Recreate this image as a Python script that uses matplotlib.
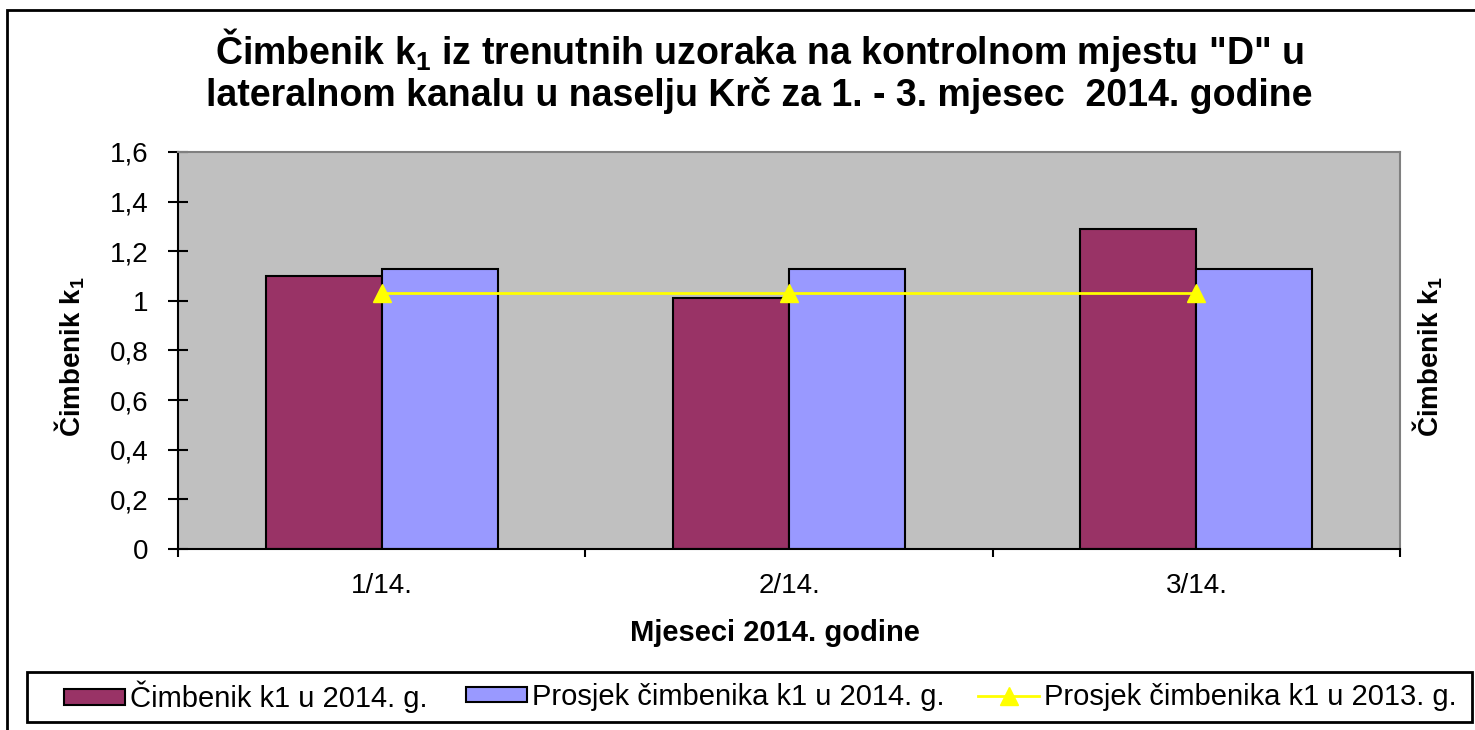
import matplotlib
matplotlib.use("Agg")
import matplotlib.pyplot as plt
from matplotlib.patches import Rectangle
from matplotlib.lines import Line2D
import numpy as np

plt.rcParams['font.family'] = ['Liberation Sans', 'DejaVu Sans']
plt.rcParams['mathtext.fontset'] = 'custom'
plt.rcParams['mathtext.rm'] = 'Liberation Sans'
plt.rcParams['mathtext.bf'] = 'Liberation Sans:bold'

categories = ["1/14.", "2/14.", "3/14."]
k1_2014 = [1.10, 1.01, 1.29]
avg_2014 = [1.13, 1.13, 1.13]
avg_2013 = [1.03, 1.03, 1.03]
yticks = [0, 0.2, 0.4, 0.6, 0.8, 1.0, 1.2, 1.4, 1.6]
ytick_labels = ["0", "0,2", "0,4", "0,6", "0,8", "1", "1,2", "1,4", "1,6"]

title = ("Čimbenik k$_\\mathbf{1}$ iz trenutnih uzoraka na kontrolnom mjestu \"D\" u\n"
         "lateralnom kanalu u naselju Krč za 1. - 3. mjesec  2014. godine")
lab1 = "Čimbenik k1 u 2014. g."
lab2 = "Prosjek čimbenika k1 u 2014. g."
lab3 = "Prosjek čimbenika k1 u 2013. g."

c_red = "#993366"
c_blue = "#9999FF"
c_yel = "#FFFF00"

fig = plt.figure(figsize=(14.75, 7.3), dpi=100)
W, H = 1475, 730
ax = fig.add_axes([178 / W, 1 - 549 / H, (1400 - 178) / W, (549 - 152) / H])
ax.set_facecolor("#C0C0C0")

x = np.arange(len(categories))
w = 0.285
ax.bar(x - w / 2, k1_2014, width=w, color=c_red, edgecolor="black", linewidth=1.5, zorder=2)
ax.bar(x + w / 2, avg_2014, width=w, color=c_blue, edgecolor="black", linewidth=1.5, zorder=2)
ax.plot(x, avg_2013, color=c_yel, linewidth=2, marker="^", markersize=13, zorder=3)

ax.set_xlim(-0.5, 2.5)
ax.set_ylim(0, 1.6)
ax.set_yticks(yticks)
ax.set_yticklabels(ytick_labels, fontsize=20)
ax.set_xticks(x)
ax.set_xticklabels(categories, fontsize=20)
ax.set_xticks([-0.5, 0.5, 1.5, 2.5], minor=True)
ax.tick_params(axis="x", which="major", length=0, pad=17)
ax.tick_params(axis="x", which="minor", length=6, width=1.5, direction="out")
ax.tick_params(axis="y", which="major", length=15, width=1.5, direction="inout", pad=13.5)

for s in ["top", "right"]:
    ax.spines[s].set_color("#808080")
    ax.spines[s].set_linewidth(1.5)
for s in ["left", "bottom"]:
    ax.spines[s].set_color("black")
    ax.spines[s].set_linewidth(1.5)

fig.text(775 / W, 1 - 633 / H, "Mjeseci 2014. godine", fontsize=21, fontweight="bold",
         ha="center", va="center")
fig.text(70 / W, 1 - 357 / H, "Čimbenik k$_\\mathbf{1}$", rotation=90, fontsize=20,
         fontweight="bold", ha="center", va="center")
fig.text(1428 / W, 1 - 357 / H, "Čimbenik k$_\\mathbf{1}$", rotation=90, fontsize=20,
         fontweight="bold", ha="center", va="center")

fig.text(759 / W, 1 - 70 / H, title, fontsize=27, fontweight="bold", ha="center",
         va="center", linespacing=1.1)

# outer chart frame
fig.patches.append(Rectangle((7 / W, -0.05), 1.2, 1 - 10 / H + 0.05, transform=fig.transFigure,
                             fill=False, edgecolor="black", linewidth=2, zorder=0))
# legend frame
fig.patches.append(Rectangle((27 / W, 1 - 722 / H), (1472 - 27) / W, 50 / H,
                             transform=fig.transFigure, fill=False, edgecolor="black",
                             linewidth=2, zorder=1))

handles = [
    Rectangle((0, 0), 1, 1, facecolor=c_red, edgecolor="black", linewidth=1.5),
    Rectangle((0, 0), 1, 1, facecolor=c_blue, edgecolor="black", linewidth=1.5),
    Line2D([0], [0], color=c_yel, linewidth=2, marker="^", markersize=13),
]
labels = [lab1, lab2, lab3]
starts = [64, 466, 978]
for h, l, sx in zip(handles, labels, starts):
    fig.legend([h], [l], loc="center left", bbox_to_anchor=(sx / W, 1 - 697 / H),
               fontsize=21, frameon=False, handlelength=2.1, handleheight=0.45,
               handletextpad=0.15, borderpad=0, borderaxespad=0)

fig.savefig("out.png", dpi=100, facecolor="white")
